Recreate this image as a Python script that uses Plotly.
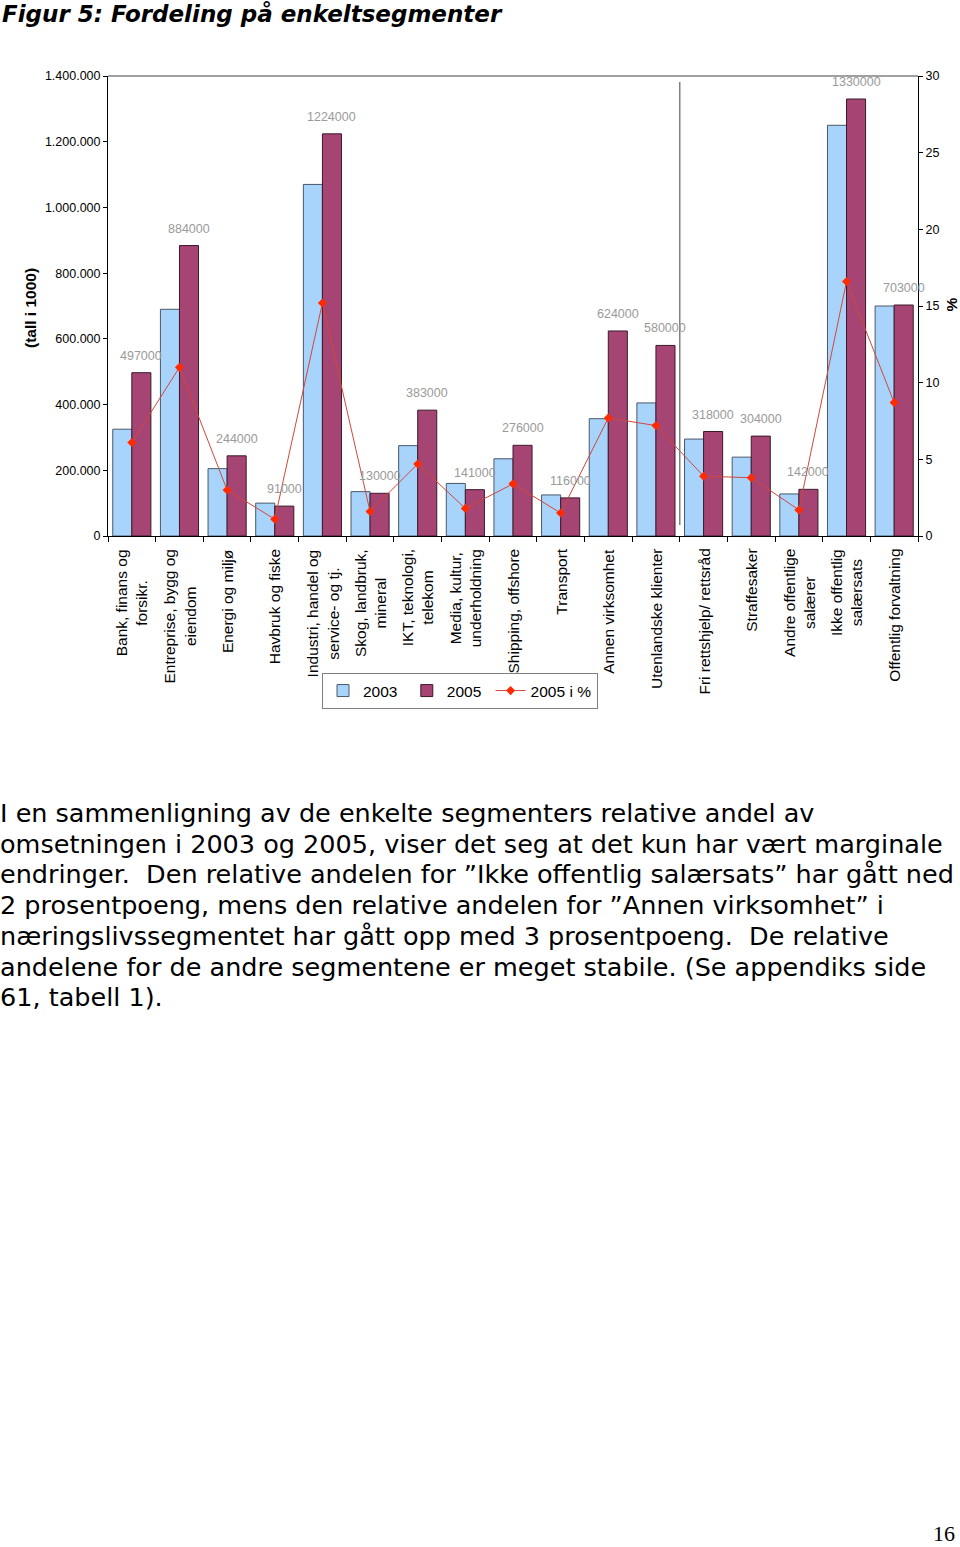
import plotly.graph_objects as go

categories = [
    "Bank, finans og forsikr.", "Entreprise, bygg og eiendom", "Energi og miljø",
    "Havbruk og fiske", "Industri, handel og service- og tj.", "Skog, landbruk, mineral",
    "IKT, teknologi, telekom", "Media, kultur, underholdning", "Shipping, offshore",
    "Transport", "Annen virksomhet", "Utenlandske klienter", "Fri rettshjelp/ rettsråd",
    "Straffesaker", "Andre offentlige salærer", "Ikke offentlig salærsats",
    "Offentlig forvaltning",
]
tick_labels = [
    "Bank, finans og<br>forsikr.", "Entreprise, bygg og<br>eiendom", "Energi og miljø",
    "Havbruk og fiske", "Industri, handel og<br>service- og tj.", "Skog, landbruk,<br>mineral",
    "IKT, teknologi,<br>telekom", "Media, kultur,<br>underholdning", "Shipping, offshore",
    "Transport", "Annen virksomhet", "Utenlandske klienter", "Fri rettshjelp/ rettsråd",
    "Straffesaker", "Andre offentlige<br>salærer", "Ikke offentlig<br>salærsats",
    "Offentlig forvaltning",
]
values_2003 = [325000, 690000, 205000, 100000, 1070000, 135000, 275000, 160000, 235000,
               125000, 357000, 405000, 295000, 240000, 128000, 1250000, 700000]
values_2005 = [497000, 884000, 244000, 91000, 1224000, 130000, 383000, 141000, 276000,
               116000, 624000, 580000, 318000, 304000, 142000, 1330000, 703000]
pct_2005 = [6.1, 11.0, 3.0, 1.1, 15.2, 1.6, 4.7, 1.8, 3.4, 1.5, 7.7, 7.2, 3.9, 3.8, 1.7, 16.6, 8.7]

left_ticks = [0, 200000, 400000, 600000, 800000, 1000000, 1200000, 1400000]
right_ticks = [0, 5, 10, 15, 20, 25, 30]
series_names = ["2003", "2005", "2005 i %"]

title_text = "Figur 5: Fordeling på enkeltsegmenter"
paragraph = [
    "I en sammenligning av de enkelte segmenters relative andel av",
    "omsetningen i 2003 og 2005, viser det seg at det kun har vært marginale",
    "endringer.  Den relative andelen for ”Ikke offentlig salærsats” har gått ned",
    "2 prosentpoeng, mens den relative andelen for ”Annen virksomhet” i",
    "næringslivssegmentet har gått opp med 3 prosentpoeng.  De relative",
    "andelene for de andre segmentene er meget stabile. (Se appendiks side",
    "61, tabell 1).",
]
page_number = "16"

W, H = 960, 1547
L, R, T, B = 108, 918, 76, 536


def py(p):
    return (B - p) / (B - T)


def px(p):
    return (p - L) / (R - L)


FONT = "Liberation Sans, Arial, sans-serif"
VERDANA = "DejaVu Sans, Verdana, sans-serif"
PAD = "\u00a0"

fig = go.Figure()
fig.add_trace(go.Bar(
    name=series_names[0] + PAD, x=categories, y=values_2003,
    marker=dict(color="#A8D4FC", line=dict(color="#4A5868", width=1)),
))
fig.add_trace(go.Bar(
    name=series_names[1] + PAD, x=categories, y=values_2005,
    marker=dict(color="#A64574", line=dict(color="#3A1A2A", width=1)),
))
fig.add_trace(go.Scatter(
    name=series_names[2], x=categories, y=pct_2005, yaxis="y2", mode="lines+markers",
    line=dict(color="#D2463A", width=1),
    marker=dict(symbol="diamond", size=7, color="#FF2A00"),
))

annotations = []
# data labels above 2005 bars
for c, v in zip(categories, values_2005):
    annotations.append(dict(
        x=c, y=v, xref="x", yref="y", text=str(v), showarrow=False,
        xshift=9.5, yshift=17, font=dict(family=FONT, size=12.5, color="#9A9A9A"),
    ))
# category labels
for c, t in zip(categories, tick_labels):
    annotations.append(dict(
        x=c, y=py(547), xref="x", yref="paper", text=t, showarrow=False,
        textangle=-90, xanchor="center", yanchor="top", align="center",
        font=dict(family=FONT, size=15.5, color="black"),
    ))
# axis titles
annotations.append(dict(
    x=px(30), y=py(308), xref="paper", yref="paper", text="<b>(tall i 1000)</b>",
    showarrow=False, textangle=-90, xanchor="center", yanchor="middle",
    font=dict(family=FONT, size=15.5, color="black"),
))
annotations.append(dict(
    x=px(960), y=py(305), xref="paper", yref="paper", text="<b>%</b>",
    showarrow=False, textangle=-90, xanchor="right", yanchor="middle", borderpad=0,
    font=dict(family=FONT, size=15.5, color="black"),
))
# title
annotations.append(dict(
    x=px(0), y=py(14), xref="paper", yref="paper", text=title_text,
    showarrow=False, xanchor="left", yanchor="middle",
    font=dict(family=VERDANA, size=23, color="black", weight="bold", style="italic"),
))
# paragraph lines
for i, line in enumerate(paragraph):
    annotations.append(dict(
        x=px(-2), y=py(813 + i * 30.7), xref="paper", yref="paper", text=line,
        showarrow=False, xanchor="left", yanchor="middle",
        font=dict(family=VERDANA, size=25.5, color="black"),
    ))
# page number
annotations.append(dict(
    x=px(944), y=py(1533), xref="paper", yref="paper", text=page_number,
    showarrow=False, xanchor="center", yanchor="middle",
    font=dict(family="Liberation Serif, Times New Roman, serif", size=22, color="black"),
))

shapes = [
    dict(type="line", xref="paper", yref="paper", x0=0, x1=1, y0=1, y1=1,
         line=dict(color="#808080", width=1.5)),
    dict(type="line", xref="x", yref="paper", x0=11.5, x1=11.5, y0=py(525), y1=py(82),
         line=dict(color="#808080", width=1.5)),
]

fig.update_layout(
    width=W, height=H,
    margin=dict(l=L, r=W - R, t=T, b=H - B),
    paper_bgcolor="white", plot_bgcolor="white",
    separators=",.",
    barmode="group", bargap=0.2, bargroupgap=0,
    font=dict(family=FONT, size=12, color="black"),
    xaxis=dict(
        type="category", range=[-0.5, 16.5], showticklabels=False,
        showline=True, linecolor="black", linewidth=1,
        ticks="outside", tickson="boundaries", ticklen=5, tickcolor="black",
        showgrid=False, zeroline=False,
    ),
    yaxis=dict(
        range=[0, 1400000], tickvals=left_ticks, tickformat=",d",
        showline=True, linecolor="black", linewidth=1,
        ticks="outside", ticklen=4, tickcolor="black",
        showgrid=False, zeroline=False, tickfont=dict(size=12.5),
    ),
    yaxis2=dict(
        range=[0, 30], tickvals=right_ticks, overlaying="y", side="right",
        showline=True, linecolor="black", linewidth=1,
        ticks="outside", ticklen=4, tickcolor="black",
        showgrid=False, zeroline=False, tickfont=dict(size=12.5),
    ),
    legend=dict(
        orientation="h", x=px(322), y=py(691), xanchor="left", yanchor="middle",
        bordercolor="#808080", borderwidth=1, bgcolor="white",
        font=dict(family=FONT, size=15.5), traceorder="normal",
        itemwidth=30, tracegroupgap=0,
    ),
    annotations=annotations,
    shapes=shapes,
)

fig.write_html("out.html")
